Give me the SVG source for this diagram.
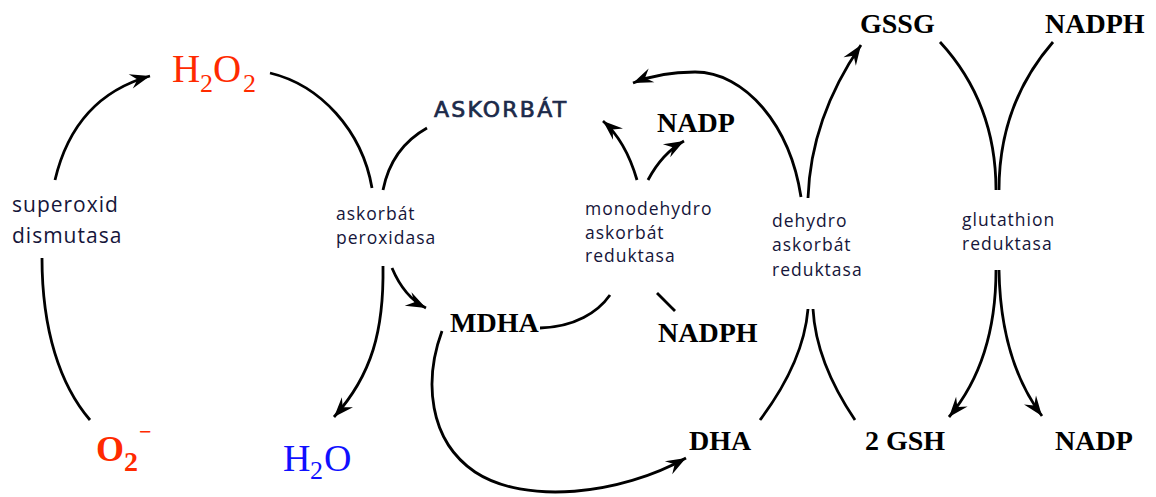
<svg xmlns="http://www.w3.org/2000/svg" width="1156" height="497" viewBox="0 0 1156 497">
<defs>
<style>
.bg{fill:#ffffff}
.chem{font-family:"Liberation Serif","Times New Roman",serif;font-weight:bold;font-size:28px;fill:#000000}
.cm{font-family:"Liberation Serif","Times New Roman",serif;font-size:39px}
.enz{font-family:"Open Sans","Noto Sans",sans-serif;font-size:17.5px;letter-spacing:1px;fill:#15153a}
.enzL{font-family:"Open Sans","Noto Sans",sans-serif;font-size:21px;letter-spacing:1px;fill:#15153a}
.asc{font-family:"DejaVu Sans","Liberation Sans",sans-serif;font-size:22px;letter-spacing:2.2px;fill:#1c2a4a;stroke:#1c2a4a;stroke-width:0.7px}
.ln{fill:none;stroke:#000000;stroke-width:2.8;stroke-linecap:butt}
.arr{marker-end:url(#ah)}
</style>
<marker id="ah" viewBox="-22 -9 24 18" refX="0" refY="0" markerWidth="24" markerHeight="18" markerUnits="userSpaceOnUse" orient="auto">
<path d="M0,0 L-20,-7.5 L-13,0 L-20,7.5 Z" fill="#000000"/>
</marker>
</defs>
<rect class="bg" x="0" y="0" width="1156" height="497"/>

<g id="connectors">
<path class="ln" d="M42,258 C42,330 60,385 90,420"/>
<path class="ln arr" d="M55,180 C68,125 100,90 150,76"/>
<path class="ln" d="M270,73 C320,85 362,130 372,188"/>
<path class="ln" d="M427,128 C402,142 388,165 383,190"/>
<path class="ln arr" d="M383,266 C384,330 372,375 334,417"/>
<path class="ln arr" d="M392,268 C400,287 410,300 426,308"/>
<path class="ln" d="M540,328 C575,327 598,312 610,295"/>
<path class="ln" d="M657,293 C664,300 669,305 675,311"/>
<path class="ln arr" d="M637,180 C630,156 620,136 603,121"/>
<path class="ln arr" d="M648,180 C657,163 668,150 684,141"/>
<path class="ln arr" d="M801,197 C790,125 745,72 695,72 C668,72 650,76 633,83"/>
<path class="ln arr" d="M808,198 C810,140 830,90 861,45"/>
<path class="ln" d="M940,42 C975,80 996,130 996,190"/>
<path class="ln" d="M1053,42 C1020,80 999,130 999,190"/>
<path class="ln" d="M760,420 C790,380 805,345 808,309"/>
<path class="ln" d="M855,420 C828,380 815,345 813,309"/>
<path class="ln arr" d="M996,270 C996,330 980,380 949,417"/>
<path class="ln arr" d="M999,270 C1000,330 1015,380 1042,416"/>
<path class="ln arr" d="M442,331 C424,380 428,440 475,472 C525,505 620,495 686,458"/>
</g>

<g id="node-h2o2">
<text class="cm" fill="#ff2a00"><tspan x="172" y="82">H</tspan><tspan x="200" y="92" font-size="26">2</tspan><tspan x="213" y="82">O</tspan><tspan x="243" y="92" font-size="26">2</tspan></text>
</g>
<g id="node-o2">
<text class="chem" style="fill:#ff2a00;font-size:36px"><tspan x="96" y="461">O</tspan><tspan x="124" y="471" font-size="28">2</tspan><tspan x="139" y="439" font-size="22">−</tspan></text>
</g>
<g id="node-h2o">
<text class="cm" fill="#1010ff" style="font-size:38px"><tspan x="283" y="471">H</tspan><tspan x="310" y="479" font-size="26">2</tspan><tspan x="324" y="471">O</tspan></text>
</g>
<g id="node-sod">
<text class="enzL" x="12" y="212">superoxid</text>
<text class="enzL" x="12" y="243">dismutasa</text>
</g>
<g id="node-apx">
<text class="enz" x="336" y="220">askorbát</text>
<text class="enz" x="336" y="244">peroxidasa</text>
</g>
<g id="node-askorbat">
<text class="asc" x="434" y="117">ASKORBÁT</text>
</g>
<g id="node-nadp-top">
<text class="chem" x="657" y="132">NADP</text>
</g>
<g id="node-mdhar">
<text class="enz" x="585" y="215">monodehydro</text>
<text class="enz" x="585" y="239">askorbát</text>
<text class="enz" x="585" y="262">reduktasa</text>
</g>
<g id="node-mdha">
<text class="chem" x="450" y="332">MDHA</text>
</g>
<g id="node-nadph-mid">
<text class="chem" x="658" y="342">NADPH</text>
</g>
<g id="node-dhar">
<text class="enz" x="772" y="227">dehydro</text>
<text class="enz" x="772" y="251">askorbát</text>
<text class="enz" x="772" y="276">reduktasa</text>
</g>
<g id="node-gssg">
<text class="chem" x="860" y="33">GSSG</text>
</g>
<g id="node-nadph-top">
<text class="chem" x="1045" y="33">NADPH</text>
</g>
<g id="node-gr">
<text class="enz" x="962" y="226">glutathion</text>
<text class="enz" x="962" y="250">reduktasa</text>
</g>
<g id="node-dha">
<text class="chem" x="689" y="450">DHA</text>
</g>
<g id="node-gsh">
<text class="chem" x="865" y="450">2 GSH</text>
</g>
<g id="node-nadp-bottom">
<text class="chem" x="1055" y="450">NADP</text>
</g>
</svg>
